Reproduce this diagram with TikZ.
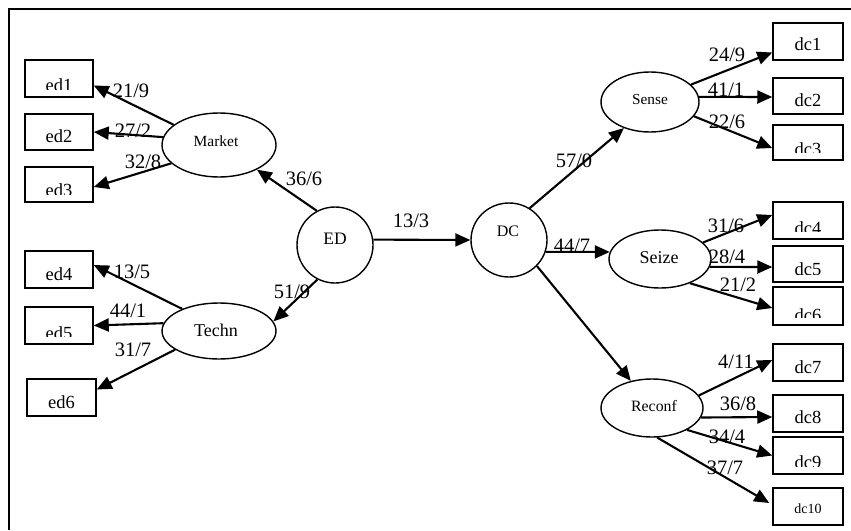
\documentclass[tikz,border=0pt]{standalone}
\usepackage{fontspec}
\setmainfont{Liberation Serif}
\usetikzlibrary{arrows.meta,shapes.geometric}
\newcommand\mybox[8]{%
  \node[boxst, minimum width=#4pt, minimum height=#5pt] (#1) at (#2,#3) {};
  \begin{scope}
    \clip ([yshift=8pt]#1.south west) rectangle (#1.north east);
    \node[anchor=base, inner sep=0pt, font=\fontsize{#8}{#8}\selectfont] (#1-t) at ([yshift=#7pt]#1.south) {#6};
  \end{scope}}
\begin{document}
\begin{tikzpicture}[x=1pt,y=-1pt,
  boxst/.style={draw,line width=1.5pt,inner sep=0pt,rectangle},
  ell/.style={draw,ellipse,line width=1.4pt,inner sep=0pt},
  arr/.style={line width=2.1pt,-{Triangle[length=15pt,width=13pt]}},
  lab/.style={font=\fontsize{20.5}{20.5}\selectfont,inner sep=0pt},
]
\useasboundingbox (0,0) rectangle (851,530);
\draw[line width=2pt] (9,530) -- (9,9) -- (851,9);

% left boxes
\mybox{ed1}{59}{78.5}{68}{37}{ed1}{6}{18.5}
\mybox{ed2}{59}{132}{68}{36}{ed2}{8}{18.5}
\mybox{ed3}{59}{184.5}{68}{35}{ed3}{6}{18.5}
\mybox{ed4}{59}{269.5}{68}{37}{ed4}{8}{18.5}
\mybox{ed5}{59}{325.5}{68}{37}{ed5}{5}{18.5}
\mybox{ed6}{61.5}{397.5}{69}{37}{ed6}{8}{18.5}
% right boxes
\mybox{dc1}{808}{41.5}{70}{37}{dc1}{10}{18.5}
\mybox{dc2}{808}{96}{70}{36}{dc2}{8}{18.5}
\mybox{dc3}{808}{142.5}{70}{35}{dc3}{5}{18.5}
\mybox{dc4}{808}{220.5}{70}{37}{dc4}{5}{18.5}
\mybox{dc5}{808}{264}{70}{36}{dc5}{7}{18.5}
\mybox{dc6}{808}{306}{70}{38}{dc6}{4}{18.5}
\mybox{dc7}{808}{362.5}{70}{37}{dc7}{8}{18.5}
\mybox{dc8}{808}{413.5}{70}{37}{dc8}{9}{18.5}
\mybox{dc9}{808}{455.5}{70}{37}{dc9}{6}{18.5}
\mybox{dc10}{808}{506.5}{70}{37}{dc10}{12}{14}

% ellipses and circles
\node[ell, minimum width=114pt, minimum height=64pt] (Market) at (219,145) {};
\node[ell, minimum width=114pt, minimum height=56pt] (Techn) at (219,331) {};
\node[ell, minimum width=76pt, minimum height=76pt] (ED) at (335,245) {};
\node[ell, minimum width=76pt, minimum height=74pt] (DC) at (509,240) {};
\node[ell, minimum width=98pt, minimum height=60pt] (Sense) at (650,102) {};
\node[ell, minimum width=102pt, minimum height=58pt] (Seize) at (660,259) {};
\node[ell, minimum width=102pt, minimum height=58pt] (Reconf) at (652,408) {};

\node[inner sep=0pt, font=\fontsize{15.5}{15.5}\selectfont] (Market-t) at (216,141) {Market};
\node[inner sep=0pt, font=\fontsize{18}{18}\selectfont] (Techn-t) at (216,330) {Techn};
\node[inner sep=0pt, font=\fontsize{17.5}{17.5}\selectfont] (ED-t) at (335,239) {ED};
\node[inner sep=0pt, font=\fontsize{16}{16}\selectfont] (DC-t) at (508,231) {DC};
\node[inner sep=0pt, font=\fontsize{15.3}{15.3}\selectfont] (Sense-t) at (650,100) {Sense};
\node[inner sep=0pt, font=\fontsize{18}{18}\selectfont] (Seize-t) at (659,258) {Seize};
\node[inner sep=0pt, font=\fontsize{15.8}{15.8}\selectfont] (Reconf-t) at (654,406) {Reconf};

% edge labels
\node[lab] (l1) at (131,91) {21/9};
\node[lab] (l2) at (133,131) {27/2};
\node[lab] (l3) at (143,162) {32/8};
\node[lab] (l4) at (304,179) {36/6};
\node[lab] (l5) at (292,292) {51/9};
\node[lab] (l6) at (411,221) {13/3};
\node[lab] (l7) at (132,272) {13/5};
\node[lab] (l8) at (128,311) {44/1};
\node[lab] (l9) at (133,350) {31/7};
\node[lab] (l10) at (574,161) {57/0};
\node[lab] (l11) at (727,55) {24/9};
\node[lab] (l12) at (726,90) {41/1};
\node[lab] (l13) at (727,122) {22/6};
\node[lab] (l14) at (572,246) {44/7};
\node[lab] (l15) at (726,226) {31/6};
\node[lab] (l16) at (727,257) {28/4};
\node[lab] (l17) at (738,285) {21/2};
\node[lab] (l18) at (736,362) {4/11};
\node[lab] (l19) at (738,404) {36/8};
\node[lab] (l20) at (727,437) {34/4};
\node[lab] (l21) at (725,468) {37/7};

% connectors
\draw[arr] (Market.156) -- ([yshift=-7pt]ed1.east);
\draw[arr] (Market.172) -- (ed2.east);
\draw[arr] (Market.201) -- ([yshift=-2.5pt]ed3.east);
\draw[arr] (ED.118) -- (Market.327);
\draw[arr] (ED.243) -- (Techn.10);
\draw[arr] (Techn.149) -- ([yshift=4.5pt]ed4.east);
\draw[arr] (Techn.172) -- (ed5.east);
\draw[arr] (Techn.203) -- ([yshift=8pt]ed6.east);
\draw[arr] (ED.8) -- (DC.west);
\draw[arr] (DC.57) -- (Sense.225);
\draw[arr] (DC.-18) -- (Seize.172);
\draw[arr] (DC.317) -- (Reconf.128);
\draw[arr] (Sense.23) -- ([yshift=-11pt]dc1.west);
\draw[arr] (Sense.6) -- ([yshift=-1pt]dc2.west);
\draw[arr] (Sense.342) -- ([yshift=-5.5pt]dc3.west);
\draw[arr] (Seize.21) -- ([yshift=5.5pt]dc4.west);
\draw[arr] (Seize.351) -- ([yshift=-3pt]dc5.west);
\draw[arr] (Seize.321) -- ([yshift=-2pt]dc6.west);
\draw[arr] (Reconf.15) -- ([yshift=2.5pt]dc7.west);
\draw[arr] (Reconf.349) -- ([yshift=-3.5pt]dc8.west);
\draw[arr] (Reconf.328) -- (dc9.west);
\draw[arr] (Reconf.280) -- ([xshift=-3pt,yshift=3.5pt]dc10.west);
\end{tikzpicture}
\end{document}
